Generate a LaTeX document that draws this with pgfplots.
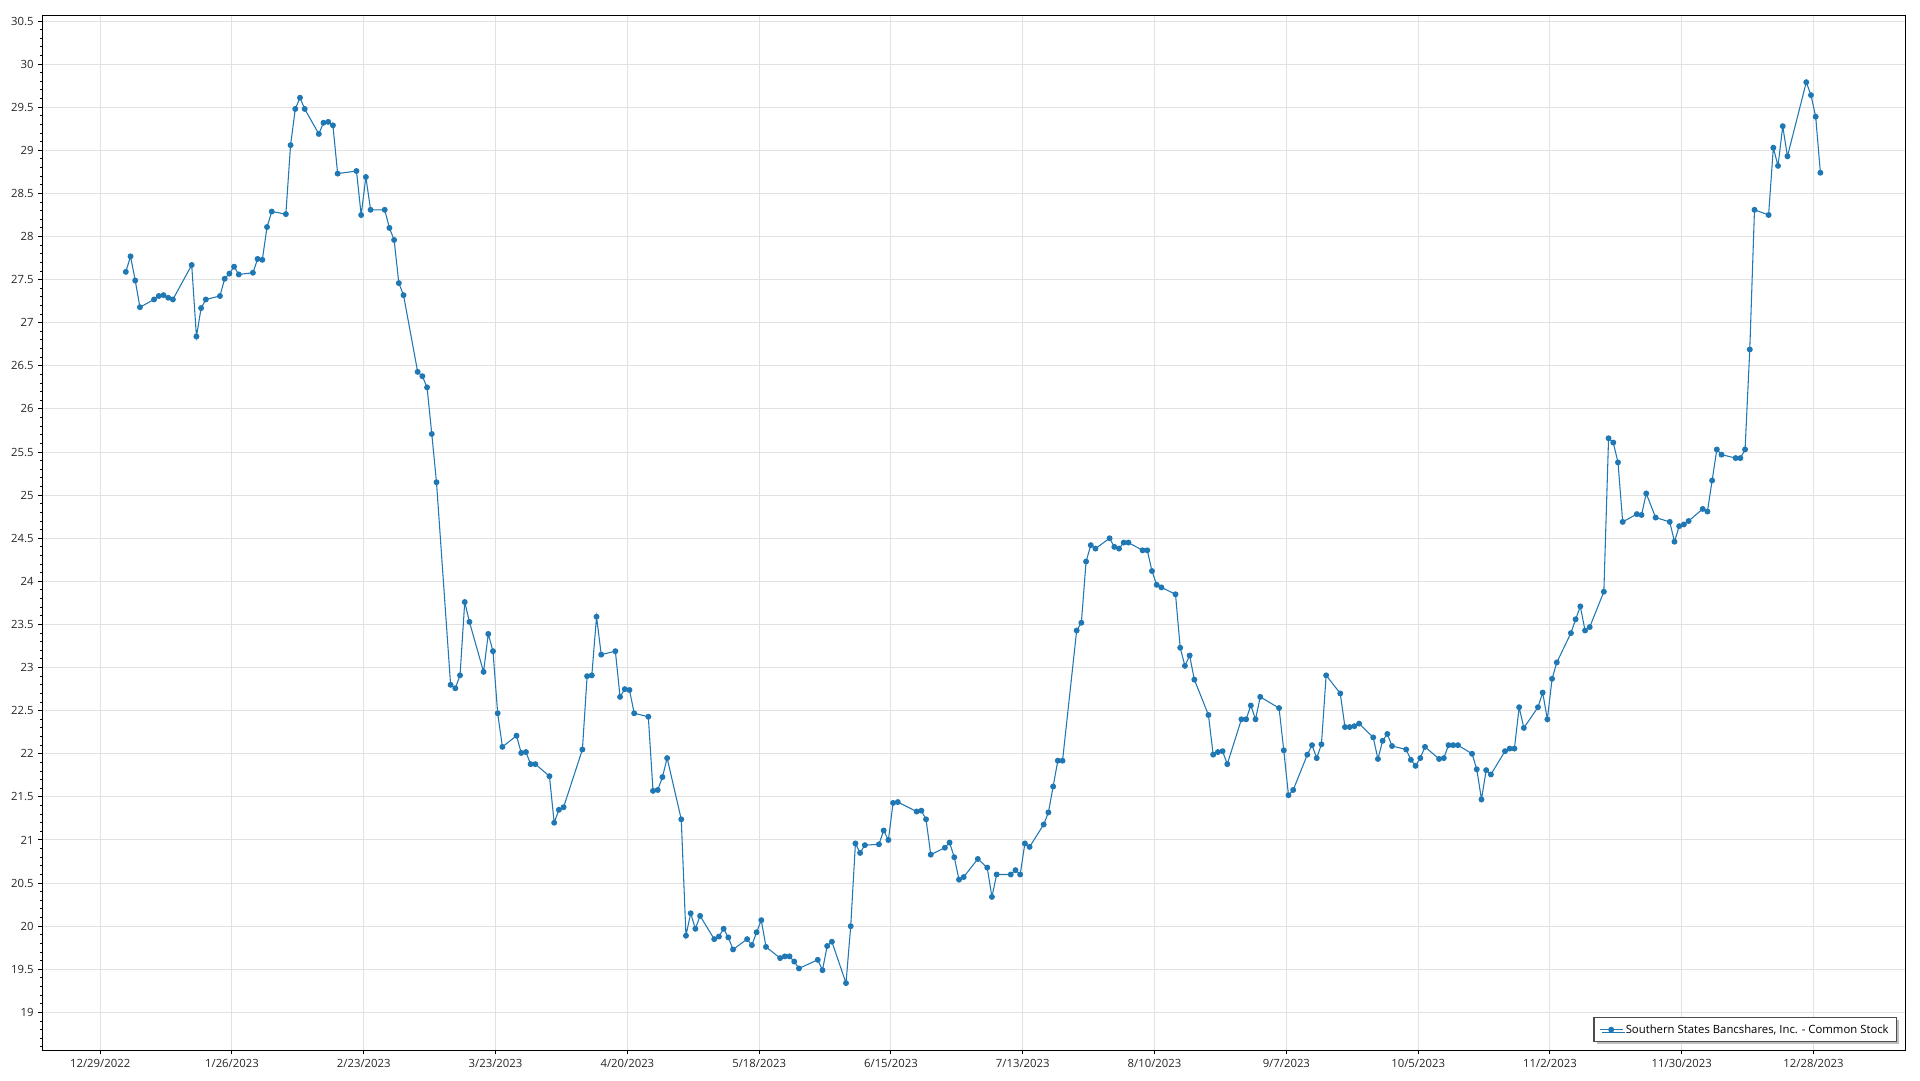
\documentclass[border=0pt]{standalone}
\usepackage{fontspec}
\setmainfont{Open Sans}
\usepackage{pgfplots}
\pgfplotsset{compat=1.18}
\usetikzlibrary{shadows}
\definecolor{series}{RGB}{31,119,180}
\definecolor{gridc}{RGB}{226,226,226}

\begin{document}
\begin{tikzpicture}
\begin{axis}[
  name=ax,
  scale only axis,
  width=1397.25pt, height=776.25pt,
  xmin=-12.75, xmax=383.05,
  ymin=18.56, ymax=30.566,
  xtick={-0.45,27.55,55.55,83.55,111.55,139.55,167.55,195.55,223.55,251.55,279.55,307.55,335.55,363.55},
  xticklabels={12/29/2022,1/26/2023,2/23/2023,3/23/2023,4/20/2023,5/18/2023,6/15/2023,7/13/2023,8/10/2023,9/7/2023,10/5/2023,11/2/2023,11/30/2023,12/28/2023},
  ytick distance=0.5,
  minor y tick num=4,
  tick pos=left, tick align=outside,
  major tick length=3pt, minor tick length=1.6pt,
  grid=major, major grid style={gridc, line width=0.75pt},
  axis line style={line width=0.9pt},
  tick style={black, line width=0.75pt},
  tick label style={font=\fontsize{8.5}{10}\selectfont, text=black!85},
  yticklabel style={/pgf/number format/fixed, /pgf/number format/precision=1},
  /pgf/number format/assume math mode=true,
  legend style={at={(1,0)}, anchor=south east, xshift=-6pt, yshift=6pt,
    draw=black!70, line width=1pt, font=\fontsize{8.5}{10}\selectfont,
    drop shadow={shadow xshift=2pt, shadow yshift=-2pt, fill=black!25, opacity=1},
    inner xsep=4pt, inner ysep=3pt},
  legend cell align=left,
]
\addplot[series, line width=0.8pt, mark=*, mark size=1.8pt, mark options={solid}] table {
x y
5 27.59
6 27.77
7 27.49
8 27.18
11 27.27
12 27.31
13 27.32
14 27.29
15 27.27
19 27.67
20 26.84
21 27.17
22 27.27
25 27.31
26 27.51
27 27.57
28 27.65
29 27.56
32 27.58
33 27.74
34 27.73
35 28.11
36 28.29
39 28.26
40 29.06
41 29.48
42 29.61
43 29.48
46 29.19
47 29.32
48 29.33
49 29.29
50 28.73
54 28.76
55 28.25
56 28.69
57 28.31
60 28.31
61 28.10
62 27.96
63 27.46
64 27.32
67 26.43
68 26.38
69 26.25
70 25.71
71 25.15
74 22.80
75 22.76
76 22.91
77 23.76
78 23.53
81 22.95
82 23.39
83 23.19
84 22.47
85 22.08
88 22.21
89 22.01
90 22.02
91 21.88
92 21.88
95 21.74
96 21.20
97 21.35
98 21.38
102 22.05
103 22.90
104 22.91
105 23.59
106 23.15
109 23.19
110 22.66
111 22.75
112 22.74
113 22.47
116 22.43
117 21.57
118 21.58
119 21.73
120 21.95
123 21.24
124 19.89
125 20.15
126 19.97
127 20.12
130 19.85
131 19.88
132 19.97
133 19.87
134 19.73
137 19.85
138 19.78
139 19.93
140 20.07
141 19.76
144 19.63
145 19.65
146 19.65
147 19.59
148 19.51
152 19.61
153 19.49
154 19.77
155 19.82
158 19.34
159 20.00
160 20.96
161 20.85
162 20.94
165 20.95
166 21.11
167 21.00
168 21.43
169 21.44
173 21.33
174 21.34
175 21.24
176 20.83
179 20.91
180 20.97
181 20.80
182 20.54
183 20.57
186 20.78
188 20.68
189 20.34
190 20.60
193 20.60
194 20.65
195 20.60
196 20.96
197 20.92
200 21.18
201 21.32
202 21.62
203 21.92
204 21.92
207 23.43
208 23.52
209 24.23
210 24.42
211 24.38
214 24.50
215 24.40
216 24.38
217 24.45
218 24.45
221 24.36
222 24.36
223 24.12
224 23.96
225 23.93
228 23.85
229 23.23
230 23.02
231 23.14
232 22.86
235 22.45
236 21.99
237 22.02
238 22.03
239 21.88
242 22.40
243 22.40
244 22.56
245 22.40
246 22.66
250 22.53
251 22.04
252 21.52
253 21.58
256 21.99
257 22.10
258 21.95
259 22.11
260 22.91
263 22.70
264 22.31
265 22.31
266 22.32
267 22.35
270 22.19
271 21.94
272 22.15
273 22.23
274 22.09
277 22.05
278 21.93
279 21.86
280 21.95
281 22.08
284 21.94
285 21.95
286 22.10
287 22.10
288 22.10
291 22.00
292 21.82
293 21.47
294 21.81
295 21.76
298 22.03
299 22.06
300 22.06
301 22.54
302 22.30
305 22.54
306 22.71
307 22.40
308 22.87
309 23.06
312 23.40
313 23.56
314 23.71
315 23.43
316 23.47
319 23.88
320 25.66
321 25.61
322 25.38
323 24.69
326 24.78
327 24.77
328 25.02
330 24.74
333 24.69
334 24.46
335 24.64
336 24.66
337 24.70
340 24.84
341 24.81
342 25.17
343 25.53
344 25.47
347 25.43
348 25.43
349 25.53
350 26.69
351 28.31
354 28.25
355 29.03
356 28.82
357 29.28
358 28.93
362 29.79
363 29.64
364 29.39
365 28.74
};
\addlegendentry{Southern States Bancshares, Inc. - Common Stock}
\end{axis}
\pgfresetboundingbox
\path ([shift={(-31.7pt,-22.3pt)}]ax.south west) rectangle ([shift={(11pt,11.5pt)}]ax.north east);
\end{tikzpicture}
\end{document}
